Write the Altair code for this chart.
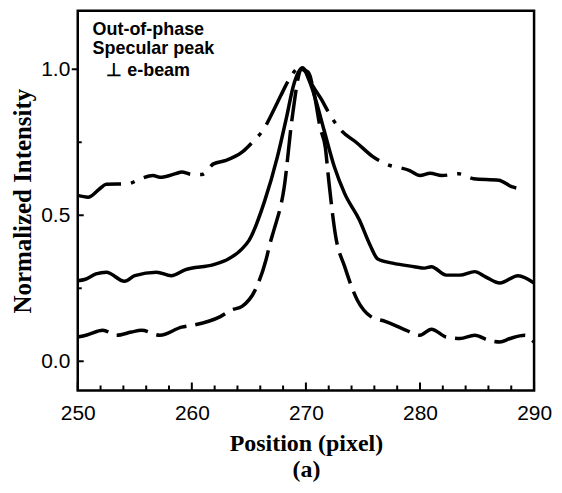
import altair as alt
import pandas as pd

# --- data ---
dashdot_x = [250, 250.9, 251.9, 252.5, 254.4, 255.5, 256.6, 257.2, 258.7, 259.1, 260, 260.9,
             261.9, 263, 264.4, 265.3, 266.3, 267.3, 267.8, 268.6, 269.4, 270.0, 270.6, 271.4,
             271.9, 273.1, 274.4, 275.9, 277, 279.1, 280, 280.9, 281.9, 283.4, 284.7, 286.9,
             288.1, 288.9]
dashdot_y = [0.568, 0.562, 0.59, 0.606, 0.608, 0.625, 0.636, 0.63, 0.644, 0.648, 0.64, 0.64,
             0.676, 0.688, 0.716, 0.75, 0.795, 0.87, 0.91, 0.97, 1.005, 0.99, 0.943, 0.894,
             0.858, 0.79, 0.75, 0.70, 0.676, 0.653, 0.636, 0.644, 0.636, 0.642, 0.625, 0.62,
             0.597, 0.59]

solid_x = [250, 250.6, 251.6, 252.5, 254.1, 255, 256.9, 258.2, 259.4, 261.9, 263.2, 264.4,
           265, 266.4, 267.5, 268.3, 268.9, 269.7, 270.3, 270.9, 271.6, 272.5, 273.4, 274.7,
           275.6, 276.3, 277.6, 279.5, 280.4, 281, 282.3, 283.5, 284.8, 285.7, 287, 288.6, 290]
solid_y = [0.276, 0.28, 0.299, 0.305, 0.274, 0.293, 0.305, 0.293, 0.313, 0.331, 0.35, 0.385,
           0.413, 0.551, 0.70, 0.835, 0.943, 1.005, 0.96, 0.89, 0.79, 0.665, 0.574, 0.483,
           0.40, 0.35, 0.336, 0.324, 0.319, 0.324, 0.295, 0.295, 0.307, 0.29, 0.268, 0.293, 0.268]

dashed_x = [250, 250.8, 252.2, 253.4, 254.7, 255.6, 257.2, 259.1, 260.3, 262.5, 263.5, 264.4,
            265.7, 266.5, 266.9, 267.2, 268.1, 268.8, 269.6, 270.2, 270.8, 271.25, 271.7, 272.0,
            272.6, 273.4, 274.5, 275.7, 277, 278.8, 280, 281, 282.3, 283.5, 284.8, 286, 287,
            287.9, 289.2, 290]
dashed_y = [0.083, 0.09, 0.106, 0.089, 0.1, 0.106, 0.089, 0.117, 0.125, 0.153, 0.176, 0.188,
            0.256, 0.347, 0.41, 0.45, 0.597, 0.835, 1.0, 0.99, 0.9, 0.80, 0.733, 0.62,
            0.43, 0.324, 0.21, 0.153, 0.136, 0.106, 0.089, 0.11, 0.083, 0.078, 0.089, 0.072,
            0.066, 0.078, 0.089, 0.066]

x_major = [250, 260, 270, 280, 290]
x_minor = [252, 254, 256, 258, 262, 264, 266, 268, 272, 274, 276, 278, 282, 284, 286, 288]
y_major = [0.0, 0.5, 1.0]
y_major_in = [0.0, 0.5]
y_major_out = [1.0]
y_minor = [0.25, 0.75]

note_lines = ["Out-of-phase", "Specular peak", "\u22a5 e-beam"]
note_x = [251.3, 251.3, 252.5]
note_y = [1.119, 1.051, 0.976]

W, H = 458, 381

df = pd.concat([
    pd.DataFrame({"pos": dashdot_x, "val": dashdot_y, "s": "dashdot"}),
    pd.DataFrame({"pos": solid_x, "val": solid_y, "s": "solid"}),
    pd.DataFrame({"pos": dashed_x, "val": dashed_y, "s": "dashed"}),
])
notes = pd.DataFrame({"t": note_lines, "pos": note_x, "val": note_y})

xs = alt.Scale(domain=[250, 290], nice=False, zero=False)
ys = alt.Scale(domain=[-0.1, 1.2], nice=False, zero=False)

base = alt.Chart(df)

x_main = alt.X("pos:Q", scale=xs,
               axis=alt.Axis(values=x_major, format="d", ticks=False, domain=False, grid=False,
                             labelFont="Liberation Sans", labelFontSize=21, labelColor="black",
                             labelPadding=12, labelFlush=False,
                             title=["Position (pixel)", "(a)"], titleFont="Liberation Serif",
                             titleFontWeight="bold", titleFontSize=24, titleColor="black",
                             titlePadding=8, titleLineHeight=26))
y_main = alt.Y("val:Q", scale=ys,
               axis=alt.Axis(values=y_major, format=".1f", ticks=False, domain=False, grid=False,
                             labelFont="Liberation Sans", labelFontSize=21, labelColor="black",
                             labelPadding=8,
                             title="Normalized Intensity", titleFont="Liberation Serif",
                             titleFontWeight="bold", titleFontSize=25, titleColor="black",
                             titlePadding=5))

X_ = alt.X("pos:Q", scale=xs)
Y_ = alt.Y("val:Q", scale=ys)

line_solid = base.transform_filter(alt.datum.s == "solid").mark_line(
    color="black", strokeWidth=3.5, interpolate="monotone"
).encode(x=x_main, y=y_main)

line_dashdot = base.transform_filter(alt.datum.s == "dashdot").mark_line(
    color="black", strokeWidth=3.5, interpolate="monotone", strokeDash=[48, 10, 4, 10]
).encode(x=X_, y=Y_)

line_dashed = base.transform_filter(alt.datum.s == "dashed").mark_line(
    color="black", strokeWidth=3.5, interpolate="monotone", strokeDash=[32, 9]
).encode(x=X_, y=Y_)


# inward tick marks drawn from the tick-value lists
def xticks(vals, length):
    return alt.Chart(pd.DataFrame({"pos": vals})).mark_rule(color="black", strokeWidth=2).encode(
        x=X_, y=alt.value(H), y2=alt.value(H - length))


def yticks(vals, x0, x1):
    return alt.Chart(pd.DataFrame({"val": vals})).mark_rule(color="black", strokeWidth=2).encode(
        y=Y_, x=alt.value(x0), x2=alt.value(x1))


t_xmaj = xticks(x_major, 8)
t_xmin = xticks(x_minor, 5)
t_ymaj = yticks(y_major_in, 0, 6)
t_yout = yticks(y_major_out, -6, 0)
t_ymin = yticks(y_minor, 0, 4)

text = alt.Chart(notes).mark_text(
    align="left", baseline="alphabetic", font="Liberation Sans", fontWeight="bold",
    fontSize=18, color="black"
).encode(x=X_, y=Y_, text="t:N")

chart = alt.layer(
    line_solid, line_dashdot, line_dashed, t_xmaj, t_xmin, t_ymaj, t_yout, t_ymin, text
).properties(
    width=W, height=H,
    autosize=alt.AutoSizeParams(type="none"),
    padding={"left": 70, "top": 2, "right": 20, "bottom": 93},
    background="white",
).configure_view(stroke="black", strokeWidth=2.5)

chart.save("out.html", embed_options={"renderer": "svg", "actions": False})
